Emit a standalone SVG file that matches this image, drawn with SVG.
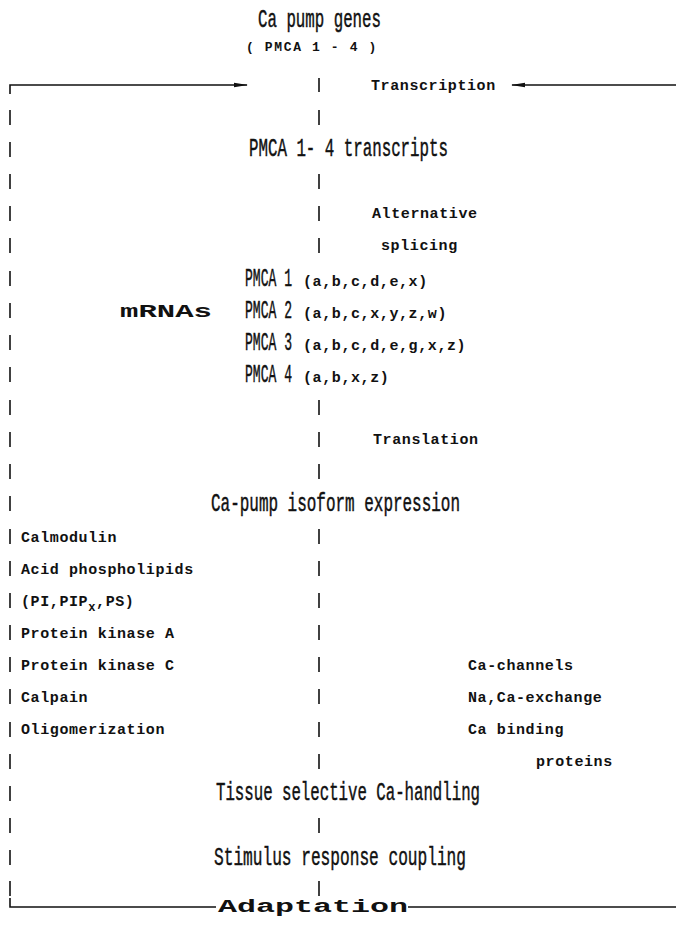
<svg xmlns="http://www.w3.org/2000/svg" width="676" height="931" viewBox="0 0 676 931">
<style>
.t{font-family:"Liberation Mono","DejaVu Sans Mono",monospace;font-size:25px;fill:#111;stroke:#111;stroke-width:0.45}
.s{font-family:"Liberation Mono","DejaVu Sans Mono",monospace;font-weight:bold;font-size:15px;fill:#111;letter-spacing:0.6px}
.w{font-family:"Liberation Mono","DejaVu Sans Mono",monospace;font-weight:bold;font-size:19px;fill:#111}
.b{stroke:#111;stroke-width:1.6;fill:none}
</style>
<defs>
<marker id="ah" markerWidth="14" markerHeight="6" refX="13" refY="3" orient="auto" markerUnits="userSpaceOnUse">
<path d="M0,0.8 L14,3 L0,5.2 Z" fill="#111"/>
</marker>
</defs>
<rect width="676" height="931" fill="#fff"/>

<g id="connectors">
<path class="b" d="M10,94 V85 H247" marker-end="url(#ah)"/>
<path class="b" d="M676,85 H512" marker-end="url(#ah)"/>
<path class="b" d="M10,898 V907 H216"/>
<path class="b" d="M408,907 H676"/>
<g id="left-bars" class="b">
<line x1="10" y1="110" x2="10" y2="125"/>
<line x1="10" y1="142" x2="10" y2="157"/>
<line x1="10" y1="174" x2="10" y2="189"/>
<line x1="10" y1="206" x2="10" y2="221"/>
<line x1="10" y1="238" x2="10" y2="253"/>
<line x1="10" y1="271" x2="10" y2="286"/>
<line x1="10" y1="303" x2="10" y2="318"/>
<line x1="10" y1="335" x2="10" y2="350"/>
<line x1="10" y1="367" x2="10" y2="382"/>
<line x1="10" y1="400" x2="10" y2="415"/>
<line x1="10" y1="432" x2="10" y2="447"/>
<line x1="10" y1="464" x2="10" y2="479"/>
<line x1="10" y1="496" x2="10" y2="511"/>
<line x1="10" y1="529" x2="10" y2="544"/>
<line x1="10" y1="561" x2="10" y2="576"/>
<line x1="10" y1="593" x2="10" y2="608"/>
<line x1="10" y1="625" x2="10" y2="640"/>
<line x1="10" y1="657" x2="10" y2="672"/>
<line x1="10" y1="689" x2="10" y2="704"/>
<line x1="10" y1="722" x2="10" y2="737"/>
<line x1="10" y1="754" x2="10" y2="769"/>
<line x1="10" y1="786" x2="10" y2="801"/>
<line x1="10" y1="818" x2="10" y2="833"/>
<line x1="10" y1="850" x2="10" y2="865"/>
<line x1="10" y1="881" x2="10" y2="896"/>
</g>
<g id="center-bars" class="b">
<line x1="319" y1="78" x2="319" y2="92"/>
<line x1="319" y1="110" x2="319" y2="125"/>
<line x1="319" y1="174" x2="319" y2="189"/>
<line x1="319" y1="206" x2="319" y2="221"/>
<line x1="319" y1="238" x2="319" y2="253"/>
<line x1="319" y1="400" x2="319" y2="415"/>
<line x1="319" y1="432" x2="319" y2="447"/>
<line x1="319" y1="464" x2="319" y2="479"/>
<line x1="319" y1="529" x2="319" y2="544"/>
<line x1="319" y1="561" x2="319" y2="576"/>
<line x1="319" y1="593" x2="319" y2="608"/>
<line x1="319" y1="625" x2="319" y2="640"/>
<line x1="319" y1="657" x2="319" y2="672"/>
<line x1="319" y1="689" x2="319" y2="704"/>
<line x1="319" y1="722" x2="319" y2="737"/>
<line x1="319" y1="754" x2="319" y2="769"/>
<line x1="319" y1="818" x2="319" y2="833"/>
<line x1="319" y1="881" x2="319" y2="896"/>
</g>
</g>

<g id="genes">
<text class="t" x="258" y="27" textLength="123" lengthAdjust="spacingAndGlyphs">Ca pump genes</text>
<text class="s" x="246" y="51" style="font-size:13px" textLength="131" lengthAdjust="spacing">( PMCA 1 - 4 )</text>
</g>
<g id="transcription"><text class="s" x="371" y="90">Transcription</text></g>
<g id="transcripts"><text class="t" x="249" y="156" textLength="199" lengthAdjust="spacingAndGlyphs">PMCA 1- 4 transcripts</text></g>
<g id="splicing">
<text class="s" x="372" y="218">Alternative</text>
<text class="s" x="381" y="250">splicing</text>
</g>
<g id="mrnas">
<text class="w" x="120" y="317" textLength="92" lengthAdjust="spacingAndGlyphs">mRNAs</text>
<text class="t" transform="translate(245,286) scale(0.522,1)">PMCA 1</text>
<text class="s" x="303" y="286">(a,b,c,d,e,x)</text>
<text class="t" transform="translate(245,318) scale(0.522,1)">PMCA 2</text>
<text class="s" x="303" y="318">(a,b,c,x,y,z,w)</text>
<text class="t" transform="translate(245,350) scale(0.522,1)">PMCA 3</text>
<text class="s" x="303" y="350">(a,b,c,d,e,g,x,z)</text>
<text class="t" transform="translate(245,382) scale(0.522,1)">PMCA 4</text>
<text class="s" x="303" y="382">(a,b,x,z)</text>
</g>
<g id="translation"><text class="s" x="373" y="444">Translation</text></g>
<g id="isoform"><text class="t" x="211" y="511" textLength="249" lengthAdjust="spacingAndGlyphs">Ca-pump isoform expression</text></g>
<g id="regulators">
<text class="s" x="21" y="542">Calmodulin</text>
<text class="s" x="21" y="574">Acid phospholipids</text>
<text class="s" x="21" y="606">(PI,PIP<tspan dy="5" style="font-size:12px">x</tspan><tspan dy="-5">,PS)</tspan></text>
<text class="s" x="21" y="638">Protein kinase A</text>
<text class="s" x="21" y="670">Protein kinase C</text>
<text class="s" x="21" y="702">Calpain</text>
<text class="s" x="21" y="734">Oligomerization</text>
</g>
<g id="other-handlers">
<text class="s" x="468" y="670">Ca-channels</text>
<text class="s" x="468" y="702">Na,Ca-exchange</text>
<text class="s" x="468" y="734">Ca binding</text>
<text class="s" x="536" y="766">proteins</text>
</g>
<g id="tissue"><text class="t" x="216" y="800" textLength="264" lengthAdjust="spacingAndGlyphs">Tissue selective Ca-handling</text></g>
<g id="stimulus"><text class="t" x="214" y="865" textLength="252" lengthAdjust="spacingAndGlyphs">Stimulus response coupling</text></g>
<g id="adaptation"><text class="w" x="218" y="912" textLength="190" lengthAdjust="spacingAndGlyphs">Adaptation</text></g>
</svg>
